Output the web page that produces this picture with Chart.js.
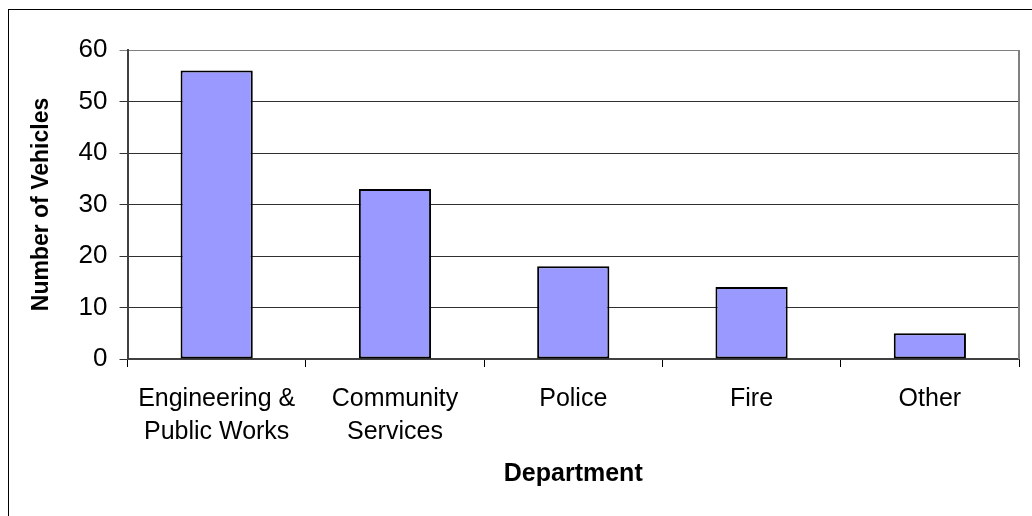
<!DOCTYPE html>
<html>
<head>
<meta charset="utf-8">
<script src="https://cdn.jsdelivr.net/npm/chart.js@4"></script>
<style>
  html, body { margin: 0; padding: 0; background: #fff; }
  #wrap { position: relative; width: 1032px; height: 516px; overflow: hidden; }
  #frame { position: absolute; left: 8px; top: 9px; width: 1040px; height: 520px; border: 1px solid #000; box-sizing: border-box; }
  canvas { position: absolute; left: 0; top: 0; }
</style>
</head>
<body>
<div id="wrap">
  <div id="frame"></div>
  <canvas id="deptChart" width="1032" height="516"></canvas>
</div>
<script>
const departments = [["Engineering &", "Public Works"], ["Community", "Services"], "Police", "Fire", "Other"];
const vehicleCounts = [56, 33, 18, 14, 5];
const yTicks = [0, 10, 20, 30, 40, 50, 60];

const FONT = "'Liberation Sans', Arial, sans-serif";

// grey right edge of the plot area, like the old spreadsheet look
const plotEdge = {
  id: "plotEdge",
  afterDraw(chart) {
    const { ctx, chartArea } = chart;
    ctx.save();
    ctx.strokeStyle = "#808080";
    ctx.lineWidth = 2;
    ctx.beginPath();
    ctx.moveTo(chartArea.right, chartArea.top);
    ctx.lineTo(chartArea.right, chartArea.bottom);
    ctx.stroke();
    ctx.restore();
  },
};

const ctx = document.getElementById("deptChart").getContext("2d");
new Chart(ctx, {
  type: "bar",
  data: {
    labels: departments,
    datasets: [
      {
        label: "Number of Vehicles",
        data: vehicleCounts,
        backgroundColor: "#9999ff",
        borderColor: "#000000",
        borderWidth: 2,
        borderSkipped: false,
        barPercentage: 0.405,
        categoryPercentage: 1,
      },
    ],
  },
  options: {
    responsive: false,
    animation: false,
    events: [],
    layout: {
      padding: { left: 18, right: 13, top: 50, bottom: 27 },
    },
    plugins: {
      legend: { display: false },
      tooltip: { enabled: false },
    },
    scales: {
      x: {
        offset: true,
        grid: {
          offset: true,
          drawOnChartArea: false,
          drawTicks: true,
          tickLength: 8,
          color: "#000",
        },
        border: { color: "#404040", width: 2 },
        ticks: {
          color: "#000",
          padding: 16,
          font: { family: FONT, size: 25, lineHeight: 1.3 },
        },
        title: {
          display: true,
          text: "Department",
          color: "#000",
          padding: { top: -5, bottom: 0 },
          font: { family: FONT, size: 25, weight: "bold", lineHeight: 1.2 },
        },
      },
      y: {
        min: 0,
        max: 60,
        afterBuildTicks(axis) {
          axis.ticks = yTicks.map((v) => ({ value: v }));
        },
        grid: {
          color: (c) => (c.tick && c.tick.value === 60 ? "#808080" : "#303030"),
          lineWidth: 1,
          drawTicks: true,
          tickLength: 8,
        },
        border: { color: "#404040", width: 2 },
        ticks: {
          color: "#000",
          padding: 12,
          font: { family: FONT, size: 26 },
        },
        title: {
          display: true,
          text: "Number of Vehicles",
          color: "#000",
          padding: { top: 10, bottom: 11 },
          font: { family: FONT, size: 23, weight: "bold", lineHeight: 1.2 },
        },
      },
    },
  },
  plugins: [plotEdge],
});
</script>
</body>
</html>
